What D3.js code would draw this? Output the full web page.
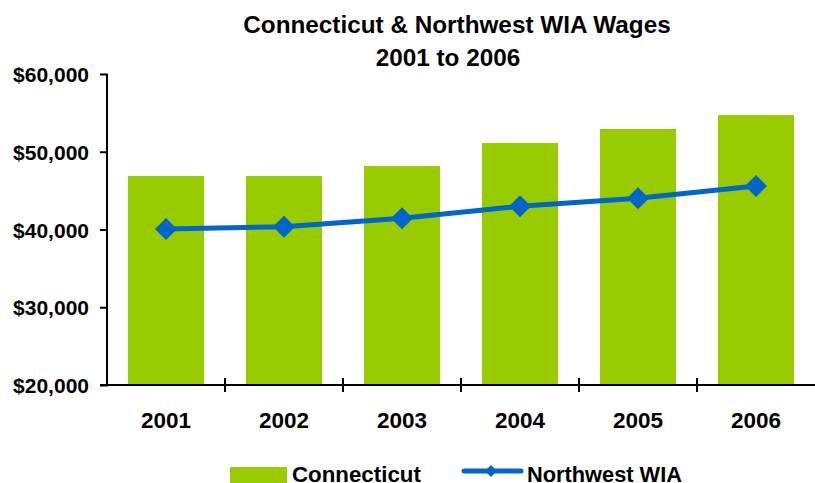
<!DOCTYPE html>
<html><head><meta charset="utf-8">
<script src="https://cdn.jsdelivr.net/npm/d3@7"></script>
<style>
body{margin:0;background:#fff;}
text{font-family:"Liberation Sans",Arial,Helvetica,sans-serif;font-weight:bold;fill:#000;}
</style></head>
<body><svg id="chart" width="815" height="483"></svg>
<script>
const years = ["2001","2002","2003","2004","2005","2006"];
const connecticut = [46880, 46880, 48170, 51130, 52930, 54730];
const northwestWIA = [40060, 40360, 41440, 42980, 44010, 45590];
const yTicks = [20000, 30000, 40000, 50000, 60000];
const titleLines = ["Connecticut & Northwest WIA Wages", "2001 to 2006"];
const seriesNames = ["Connecticut", "Northwest WIA"];

(function(){
const svg = d3.select("#chart");
const mLeft = 107, mRight = 815, mTop = 74, mBottom = 385;
const x = d3.scaleBand().domain(years).range([mLeft, mRight]).paddingInner(0.355).paddingOuter(0.1775);
const xb = d3.scaleBand().domain(years).range([mLeft, mRight]);
const y = d3.scaleLinear().domain([20000, 60000]).range([mBottom, mTop]);

// title
svg.append("text").attr("x", 457).attr("y", 33).attr("text-anchor", "middle").attr("font-size", 24.3).text(titleLines[0]);
svg.append("text").attr("x", 448).attr("y", 66).attr("text-anchor", "middle").attr("font-size", 24.3).text(titleLines[1]);

// bars
svg.selectAll("rect.bar").data(connecticut).join("rect").attr("class","bar")
  .attr("x", (d,i) => x(years[i])).attr("width", x.bandwidth())
  .attr("y", d => y(d)).attr("height", d => mBottom - y(d)).attr("fill", "#99CC00");

// y axis
const yAxis = d3.axisLeft(y).tickValues(yTicks).tickSize(7).tickFormat(d => "$" + d3.format(",")(d));
const yg = svg.append("g").attr("transform", `translate(${mLeft},0)`).call(yAxis);
yg.select(".domain").attr("stroke", "#000").attr("stroke-width", 2).attr("d", `M0,${mTop}V${mBottom}`);
yg.selectAll(".tick line").attr("stroke","#000").attr("stroke-width",2).attr("x1", 1).attr("x2", -7);
yg.selectAll(".tick text").attr("font-size", 21).attr("x", -18).attr("dy", "0.36em").attr("font-family", '"Liberation Sans",Arial,sans-serif').attr("font-weight","bold").attr("fill","#000");

// x axis
svg.append("line").attr("x1", mLeft - 7).attr("x2", mRight).attr("y1", mBottom).attr("y2", mBottom).attr("stroke", "#000").attr("stroke-width", 2);
const bounds = years.map(d => xb(d) + xb.bandwidth());
svg.selectAll("line.xt").data(bounds.slice(0, -1)).join("line").attr("class","xt")
  .attr("x1", d => d).attr("x2", d => d).attr("y1", mBottom - 7).attr("y2", mBottom + 7).attr("stroke", "#000").attr("stroke-width", 2);
svg.selectAll("text.xl").data(years).join("text").attr("class","xl")
  .attr("x", d => xb(d) + xb.bandwidth()/2).attr("y", 428).attr("text-anchor","middle").attr("font-size", 22.5).text(d => d);

// line
const cx = i => xb(years[i]) + xb.bandwidth()/2;
const line = d3.line().x((d,i) => cx(i)).y(d => y(d));
svg.append("path").datum(northwestWIA).attr("d", line).attr("fill","none").attr("stroke","#0066CC").attr("stroke-width",5);
svg.selectAll("path.mk").data(northwestWIA).join("path").attr("class","mk")
  .attr("d", "M0,-11L11,0L0,11L-11,0Z").attr("transform", (d,i) => `translate(${cx(i)},${y(d)})`).attr("fill","#0066CC");

// legend
svg.append("rect").attr("x", 230).attr("y", 467).attr("width", 57).attr("height", 20).attr("fill", "#99CC00");
svg.append("text").attr("x", 292).attr("y", 482).attr("font-size", 22.3).text(seriesNames[0]);
svg.append("line").attr("x1", 464).attr("x2", 521).attr("y1", 471).attr("y2", 471).attr("stroke","#0066CC").attr("stroke-width",5).attr("stroke-linecap","round");
svg.append("path").attr("d","M0,-6L6,0L0,6L-6,0Z").attr("transform","translate(491,471)").attr("fill","#0066CC");
svg.append("text").attr("x", 527).attr("y", 482).attr("font-size", 21.8).text(seriesNames[1]);
})();
</script></body></html>
